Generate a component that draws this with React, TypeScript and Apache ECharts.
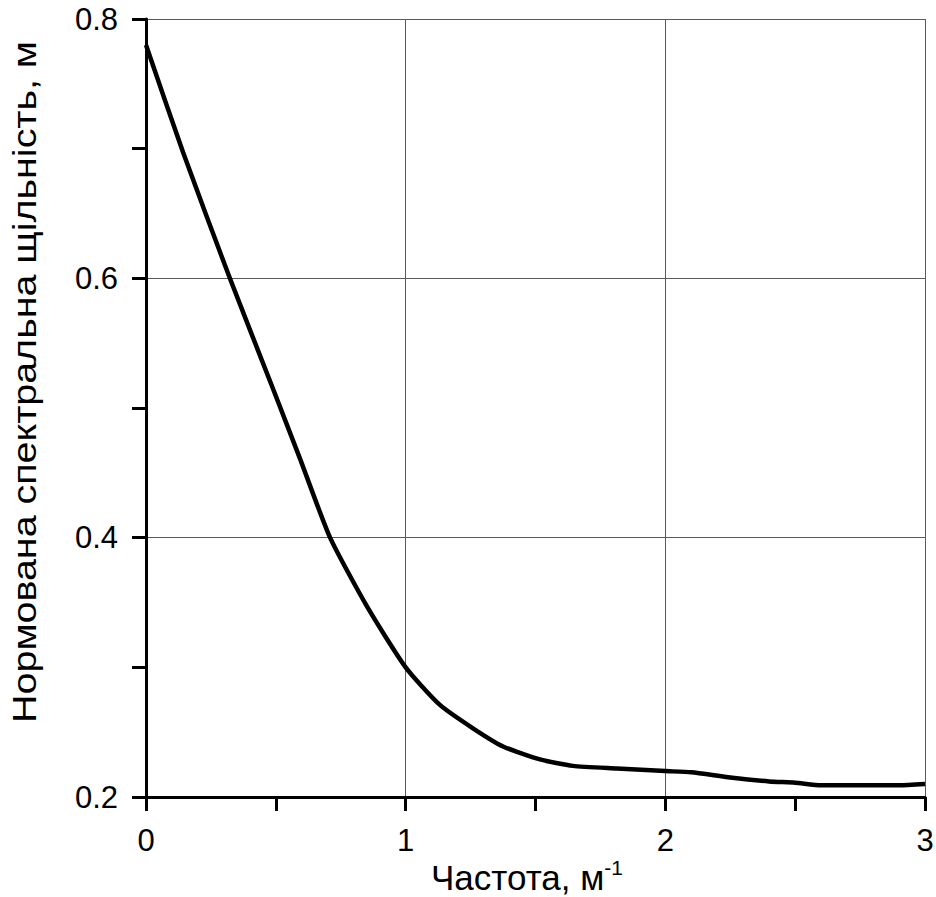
import React, { useEffect, useRef } from "react";
import * as echarts from "echarts";

const frequency = [0, 0.143, 0.323, 0.485, 0.535, 0.593, 0.709, 0.851, 1.0, 1.132, 1.259, 1.375, 1.517, 1.644, 1.814, 2.0, 2.1, 2.25, 2.4, 2.5, 2.6, 2.8, 2.9, 3.0];
const density = [0.780, 0.697, 0.600, 0.517, 0.491, 0.461, 0.400, 0.347, 0.300, 0.271, 0.253, 0.239, 0.229, 0.224, 0.222, 0.220, 0.219, 0.215, 0.212, 0.211, 0.209, 0.209, 0.209, 0.210];
const xTitle = "Частота, м";
const xTitleSup = "-1";
const yTitle = "Нормована спектральна щільність, м";

const FONT = "'Liberation Sans', Arial, sans-serif";

export default function App() {
  const ref = useRef<HTMLDivElement>(null);
  useEffect(() => {
    if (!ref.current) return;
    const chart = echarts.init(ref.current, null, { renderer: "svg" });
    const axisCommon = {
      axisLine: { show: true, onZero: false, lineStyle: { color: "#000", width: 3 } },
      axisTick: { show: true, inside: false, length: 14, lineStyle: { color: "#000", width: 3 } },
      minorTick: { show: true, splitNumber: 2, length: 14, lineStyle: { color: "#000", width: 3 } },
      splitLine: { show: true, lineStyle: { color: "#5a5a5a", width: 1 } },
      axisLabel: { color: "#000", fontFamily: FONT, fontSize: 31, margin: 28 },
    };
    chart.setOption({
      animation: false,
      backgroundColor: "#fff",
      grid: { left: 146, right: 11, top: 19, bottom: 100, containLabel: false, outerBoundsMode: "none" },
      xAxis: {
        type: "value",
        min: 0,
        max: 3,
        interval: 1,
        ...axisCommon,
      },
      yAxis: {
        type: "value",
        min: 0.2,
        max: 0.8,
        interval: 0.2,
        ...axisCommon,
        axisLabel: { ...axisCommon.axisLabel, formatter: (v: number) => v.toFixed(1) },
      },
      series: [
        {
          type: "line",
          data: frequency.map((f, i) => [f, density[i]]),
          showSymbol: false,
          symbol: "none",
          smooth: 0.2,
          lineStyle: { color: "#000", width: 4.5, join: "round" },
          z: 5,
        },
      ],
      graphic: [
        {
          type: "text",
          x: 24,
          y: 382,
          rotation: Math.PI / 2,
          scaleX: 1.16,
          style: {
            text: yTitle,
            fill: "#000",
            font: `34px ${FONT}`,
            textAlign: "center",
            textVerticalAlign: "middle",
          },
        },
        {
          type: "text",
          x: 527,
          y: 877,
          style: {
            text: `{a|${xTitle}}{b|${xTitleSup}}`,
            textAlign: "center",
            textVerticalAlign: "middle",
            rich: {
              a: { fontFamily: FONT, fontSize: 35, lineHeight: 40, fill: "#000" },
              b: { fontFamily: FONT, fontSize: 21, lineHeight: 21, verticalAlign: "top", fill: "#000" },
            },
          },
        },
      ],
    });
    return () => chart.dispose();
  }, []);
  return (
    <div
      ref={ref}
      style={{ position: "absolute", left: 0, top: 0, width: 936, height: 897 }}
    />
  );
}
